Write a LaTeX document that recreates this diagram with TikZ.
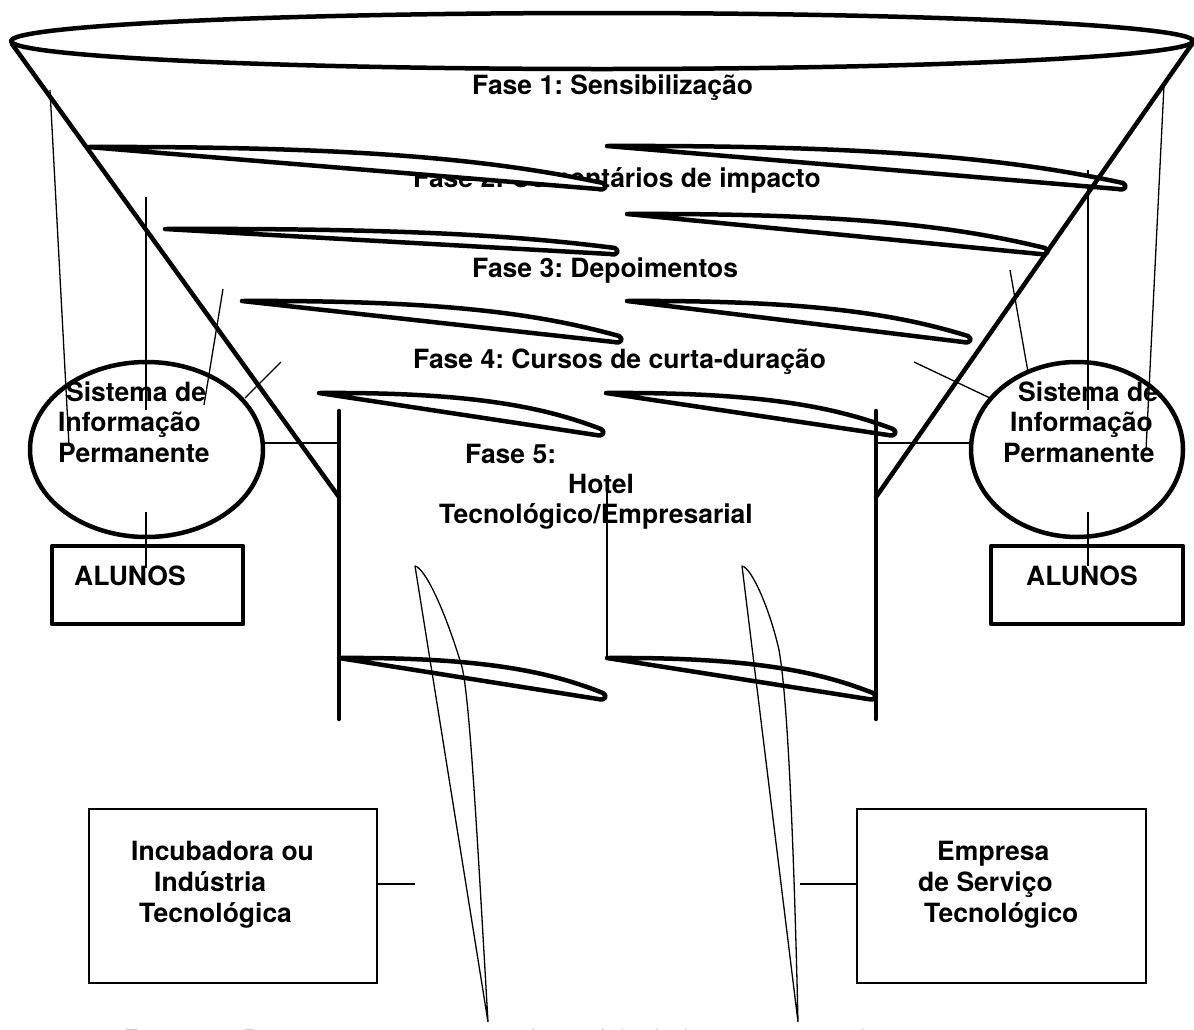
\documentclass[tikz,border=0pt]{standalone}
\usepackage{fontspec}
\setmainfont{TeX Gyre Heros}
\usetikzlibrary{shapes.geometric}
\newcommand{\bladeH}[4]{%
  \draw[bladeS] (#1,#2) .. controls ({#1+0.55*(#3-#1)},{#2-1}) and ({#3-0.2*(#3-#1)},{#4-0.6*(#4-#2)}) .. (#3,#4)
    .. controls ({#3+5},{#4+3}) and ({#3+2},{#4+8}) .. ({#3-5},{#4+6}) -- cycle;}
\begin{document}
\frenchspacing
\begin{tikzpicture}[x=1pt,y=-1pt,
  lbl/.style={font=\fontsize{26.5}{31}\selectfont\bfseries, inner sep=0pt, anchor=base west},
  thk/.style={line width=4.5pt, line join=round, line cap=round},
  thn/.style={line width=1.3pt},
  med/.style={line width=2.5pt},
  bladeS/.style={thk, fill=white}]
\useasboundingbox (0,0) rectangle (1194,1029);

% phase texts
\node[lbl] (f1) at (472,94) {Fase 1: Sensibilização};
\node[lbl] (f2) at (413,187) {Fase 2: Comentários de impacto};
\node[lbl] (f3) at (472,277) {Fase 3: Depoimentos};
\node[lbl] (f4) at (413,368) {Fase 4: Cursos de curta-duração};
\node[lbl] (f5) at (465,463) {Fase 5:};
\node[lbl] (f5b) at (568,493) {Hotel};
\node[lbl] (f5c) at (439,523) {Tecnológico/Empresarial};

% thin lines, left
\coordinate (la1) at (50,90);   \coordinate (la2) at (69,445);
\coordinate (lb1) at (146,197); \coordinate (lb2) at (146,410);
\coordinate (lc1) at (223,289); \coordinate (lc2) at (204,405);
\coordinate (ld1) at (281,362); \coordinate (ld2) at (245,398);
\coordinate (le1) at (146,512); \coordinate (le2) at (146,568);
\draw[thn] (la1) -- (la2);
\draw[thn] (lb1) -- (lb2);
\draw[thn] (lc1) -- (lc2);
\draw[thn] (ld1) -- (ld2);
\draw[thn] (le1) -- (le2);
% thin lines, right
\coordinate (ra1) at (1164,85);  \coordinate (ra2) at (1146,450);
\coordinate (rb1) at (1088,170); \coordinate (rb2) at (1088,410);
\coordinate (rc1) at (1010,270); \coordinate (rc2) at (1028,372);
\coordinate (rd1) at (914,362);  \coordinate (rd2) at (990,398);
\coordinate (re1) at (1088,512); \coordinate (re2) at (1088,566);
\draw[thn] (ra1) -- (ra2);
\draw[thn] (rb1) -- (rb2);
\draw[thn] (rc1) -- (rc2);
\draw[thn] (rd1) -- (rd2);
\draw[thn] (re1) -- (re2);

% blades
\bladeH{88}{147}{603}{183}
\bladeH{607}{146}{1123}{183}
\bladeH{165}{229}{615}{248}
\bladeH{627}{214}{1045}{248}
\bladeH{242}{301}{619}{336}
\bladeH{627}{301}{968}{336}
\bladeH{319}{393}{601}{429}
\bladeH{606}{393}{893}{429}
\bladeH{339}{658}{603}{693}
\bladeH{607}{658}{873}{693}

% Hotel line
\coordinate (ht1) at (607,492); \coordinate (ht2) at (607,658);
\draw[thn] (ht1) -- (ht2);

% vertical thin blades
\coordinate (vbL) at (488,1022); \coordinate (vbLn) at (415,566);
\draw[thn, line join=round] (vbL) -- (vbLn) .. controls (425,568) and (445,610) .. (462,667)
  .. controls (470,700) and (478,850) .. (vbL);
\coordinate (vbR) at (798,1022); \coordinate (vbRn) at (742,566);
\draw[thn, line join=round] (vbR) -- (vbRn) .. controls (752,568) and (770,610) .. (779,650)
  .. controls (788,700) and (794,850) .. (vbR);

% funnel, top ellipse, bars
\draw[thk] (602,41) ellipse [x radius=591, y radius=28];
\coordinate (topL) at (12,44); \coordinate (topR) at (1192,44);
\coordinate (funL) at (339,497); \coordinate (funR) at (876,497);
\draw[thk] (topL) -- (funL);
\draw[thk] (topR) -- (funR);
\coordinate (barLt) at (339,411); \coordinate (barLb) at (339,719);
\coordinate (barRt) at (876,411); \coordinate (barRb) at (876,719);
\draw[thk] (barLt) -- (barLb);
\draw[thk] (barRt) -- (barRb);

% Sistema ellipses
\node[ellipse, draw, thk, minimum width=233pt, minimum height=175pt, inner sep=0pt] (sisL) at (146.5,449.5) {};
\node[ellipse, draw, thk, minimum width=212pt, minimum height=175pt, inner sep=0pt] (sisR) at (1077,449.5) {};
\node[lbl] (sL1) at (66,401) {Sistema de};
\node[lbl] (sL2) at (58,431) {Informação};
\node[lbl] (sL3) at (58,462) {Permanente};
\node[lbl] (sR1) at (1018,401) {Sistema de};
\node[lbl] (sR2) at (1010,431) {Informação};
\node[lbl] (sR3) at (1003,462) {Permanente};
\coordinate (hL) at (339,443); \coordinate (hR) at (876,443);
\draw[thn] (hL) -- (hL -| sisL.east);
\draw[thn] (hR) -- (hR -| sisR.west);

% ALUNOS boxes
\node[draw, thk, minimum width=191pt, minimum height=78pt, inner sep=0pt] (aluL) at (147.5,585) {};
\node[draw, thk, minimum width=192pt, minimum height=78pt, inner sep=0pt] (aluR) at (1087,585) {};
\node[lbl] (aLt) at (74,585) {ALUNOS};
\node[lbl] (aRt) at (1026,585) {ALUNOS};

% bottom boxes
\node[draw, med, minimum width=288pt, minimum height=174pt, inner sep=0pt] (inc) at (233,896) {};
\node[draw, med, minimum width=289pt, minimum height=174pt, inner sep=0pt] (emp) at (1001.5,896) {};
\node[lbl] (i1) at (131,860) {Incubadora ou};
\node[lbl] (i2) at (154,891) {Indústria};
\node[lbl] (i3) at (139,922) {Tecnológica};
\node[lbl] (e1) at (937,860) {Empresa};
\node[lbl] (e2) at (918,891) {de Serviço};
\node[lbl] (e3) at (924,922) {Tecnológico};
\coordinate (incC) at (415,884); \coordinate (empC) at (800,884);
\draw[thn] (incC -| inc.east) -- (incC);
\draw[thn] (empC) -- (empC -| emp.west);

% caption (cut by page edge, as in the reference)
\node[font=\fontsize{25}{30}\selectfont, inner sep=0pt, anchor=base west] (cap) at (123,1048)
  {Figura 01: Diagrama representativo do modelo de funcionamento do projeto};
\end{tikzpicture}
\end{document}
